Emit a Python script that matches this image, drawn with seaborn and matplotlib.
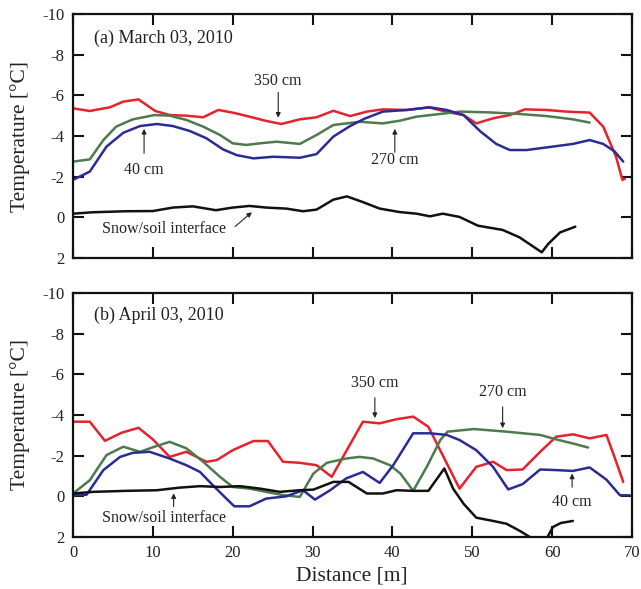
import numpy as np
import pandas as pd
import matplotlib
matplotlib.use("Agg")
import matplotlib.pyplot as plt
import seaborn as sns

# ---------------- data ----------------
# Panel (a) March 03, 2010
a_red_d = [0, 2.1, 4.6, 6.3, 8.2, 10.3, 12.1, 14.2, 16.3, 18.2, 20.0, 22.1, 24.2, 26.1, 28.4, 30.5, 32.6, 34.7,
           36.8, 38.8, 41.8, 44.5, 47.2, 48.9, 50.5, 52.6, 54.7, 56.6, 59.3, 61.8, 64.7, 66.4, 68.0, 68.8, 69.1]
a_red_t = [-5.36, -5.23, -5.41, -5.69, -5.80, -5.23, -5.03, -5.0, -4.92, -5.28, -5.15, -4.95, -4.74, -4.59, -4.82,
           -4.92, -5.24, -4.98, -5.2, -5.31, -5.28, -5.41, -5.15, -5.03, -4.62, -4.87, -5.03, -5.31, -5.28, -5.2,
           -5.15, -4.46, -2.98, -1.84, -1.9]
a_green_d = [0, 2.1, 3.8, 5.4, 7.5, 10.2, 12.1, 14.2, 16.3, 18.4, 20.0, 21.7, 23.4, 25.5, 28.4, 30.5, 32.6, 35.9,
             38.8, 40.9, 43.0, 45.9, 48.5, 52.2, 56.0, 59.3, 62.6, 64.7]
a_green_t = [-2.74, -2.85, -3.8, -4.46, -4.82, -5.03, -5.0, -4.79, -4.46, -4.05, -3.64, -3.56, -3.64, -3.72, -3.61,
             -4.05, -4.54, -4.70, -4.62, -4.75, -4.95, -5.08, -5.2, -5.16, -5.08, -4.98, -4.82, -4.66]
a_blue_d = [0, 2.1, 4.2, 6.3, 8.4, 10.5, 12.5, 14.6, 16.7, 18.8, 20.5, 22.6, 25.1, 28.4, 30.5, 32.6, 34.7, 36.5,
            38.8, 41.8, 44.7, 46.8, 48.9, 51.0, 53.0, 54.7, 56.8, 60.1, 62.6, 64.7, 66.4, 67.8, 68.9]
a_blue_t = [-1.84, -2.25, -3.48, -4.16, -4.49, -4.59, -4.49, -4.25, -3.89, -3.34, -3.06, -2.9, -2.98, -2.93, -3.11,
            -3.97, -4.49, -4.85, -5.2, -5.28, -5.41, -5.28, -5.03, -4.23, -3.61, -3.31, -3.31, -3.48, -3.61, -3.8,
            -3.61, -3.25, -2.74]
a_black_d = [0, 2.5, 6.7, 10.0, 12.5, 15.0, 17.9, 20.0, 22.1, 24.2, 26.7, 28.8, 30.5, 32.6, 34.3, 36.3, 38.4, 40.9,
             43.0, 44.7, 46.3, 48.4, 50.7, 53.8, 55.9, 58.7, 59.5, 61.0, 62.9]
a_black_t = [-0.18, -0.25, -0.3, -0.31, -0.48, -0.54, -0.35, -0.48, -0.56, -0.48, -0.43, -0.3, -0.38, -0.87, -1.03,
             -0.75, -0.43, -0.26, -0.18, -0.05, -0.18, -0.02, 0.41, 0.62, 0.98, 1.72, 1.31, 0.74, 0.46]

# Panel (b) April 03, 2010
b_red_d = [0, 2.1, 4.0, 6.1, 8.2, 10.0, 12.1, 14.2, 16.7, 18.0, 20.0, 22.6, 24.4, 26.3, 28.4, 30.5, 32.4, 36.3,
           38.4, 40.5, 42.6, 44.5, 46.4, 48.4, 50.5, 52.6, 54.3, 56.3, 58.5, 60.5, 62.6, 64.7, 66.8, 67.8, 68.9]
b_red_t = [-3.67, -3.67, -2.73, -3.13, -3.37, -2.8, -1.94, -2.19, -1.70, -1.78, -2.27, -2.72, -2.72, -1.70, -1.65,
           -1.53, -0.96, -3.67, -3.59, -3.79, -3.92, -3.42, -1.94, -0.38, -1.45, -1.70, -1.29, -1.32, -2.19, -2.93,
           -3.05, -2.85, -3.02, -1.94, -0.71]
b_green_d = [0, 2.1, 4.2, 6.3, 8.4, 10.2, 12.1, 14.2, 16.3, 18.4, 20.0, 22.1, 24.2, 26.3, 28.4, 30.1, 31.8, 34.2,
             35.9, 37.6, 39.7, 41.0, 42.6, 44.3, 46.0, 46.9, 50.2, 54.3, 58.5, 60.5, 62.6, 64.5]
b_green_t = [-0.14, -0.79, -2.03, -2.44, -2.19, -2.44, -2.68, -2.36, -1.70, -0.96, -0.46, -0.38, -0.22, -0.06, 0.03,
             -1.12, -1.65, -1.86, -1.94, -1.86, -1.53, -1.12, -0.27, -1.45, -2.77, -3.18, -3.31, -3.18, -3.02, -2.80,
             -2.6, -2.40]
b_blue_d = [0, 1.7, 3.8, 5.9, 7.5, 9.6, 12.1, 14.2, 15.9, 17.5, 19.2, 20.2, 22.1, 24.2, 26.7, 28.8, 30.3, 32.2,
            34.2, 36.3, 38.4, 40.1, 42.6, 44.7, 46.8, 48.4, 50.5, 52.6, 54.5, 56.3, 58.5, 60.5, 62.6, 64.7, 66.8,
            68.5, 69.7]
b_blue_t = [-0.05, -0.08, -1.29, -1.94, -2.14, -2.19, -1.86, -1.53, -1.2, -0.55, 0.11, 0.49, 0.49, 0.11, 0.0, -0.3,
            0.16, -0.3, -0.88, -1.2, -0.66, -1.53, -3.1, -3.1, -3.02, -2.77, -2.27, -1.45, -0.34, -0.6, -1.32, -1.29,
            -1.25, -1.42, -0.82, -0.05, -0.05]
b_black_d = [0, 2.5, 6.7, 10.5, 13.4, 15.9, 18.4, 20.9, 23.4, 25.9, 28.4, 30.1, 32.6, 34.5, 36.8, 38.8, 40.5, 42.6,
             44.5, 46.5, 47.6, 48.9, 50.5, 52.6, 54.3, 56.0, 57.4, 59.0, 60.1, 61.1, 62.6]
b_black_t = [-0.14, -0.22, -0.27, -0.3, -0.43, -0.5, -0.46, -0.5, -0.38, -0.22, -0.3, -0.33, -0.71, -0.71, -0.14,
             -0.14, -0.3, -0.27, -0.27, -1.37, -0.38, 0.36, 1.05, 1.21, 1.35, 1.71, 2.05, 2.3, 1.51, 1.31, 1.21]

series_names = ["350 cm", "270 cm", "40 cm", "Snow/soil interface"]
y_ticks = [-10, -8, -6, -4, -2, 0, 2]
x_ticks = [0, 10, 20, 30, 40, 50, 60, 70]
panel_titles = ["(a) March 03, 2010", "(b) April 03, 2010"]

# ---------------- style ----------------
sns.set_style("ticks")
plt.rcParams["font.family"] = ["Liberation Serif", "DejaVu Serif"]
plt.rcParams["axes.unicode_minus"] = False

palette = {"350 cm": "#e4232b", "270 cm": "#4d7b4d", "40 cm": "#2b2b96", "Snow/soil interface": "#111111"}


def make_df(parts):
    frames = []
    for name, d, t in parts:
        frames.append(pd.DataFrame({"Distance": d, "Temp": t, "series": name, "order": range(len(d))}))
    return pd.concat(frames, ignore_index=True)


df_a = make_df([("350 cm", a_red_d, a_red_t), ("270 cm", a_green_d, a_green_t),
                ("40 cm", a_blue_d, a_blue_t), ("Snow/soil interface", a_black_d, a_black_t)])
df_b = make_df([("350 cm", b_red_d, b_red_t), ("270 cm", b_green_d, b_green_t),
                ("40 cm", b_blue_d, b_blue_t), ("Snow/soil interface", b_black_d, b_black_t)])

W, H = 641, 589
fig = plt.figure(figsize=(W / 100, H / 100), dpi=100)
ax_a = fig.add_axes([73 / W, 1 - 258 / H, (632 - 73) / W, (258 - 14) / H])
ax_b = fig.add_axes([73 / W, 1 - 537 / H, (632 - 73) / W, (537 - 293) / H])

for ax, df in [(ax_a, df_a), (ax_b, df_b)]:
    sns.lineplot(data=df, x="Distance", y="Temp", hue="series", hue_order=series_names,
                 palette=palette, estimator=None, sort=False, units="series",
                 legend=False, linewidth=1.8, ax=ax)
    ax.set_xlim(0, 70)
    ax.set_ylim(2, -10)
    ax.set_yticks(y_ticks)
    ax.set_yticklabels([str(v) for v in y_ticks])
    ax.set_xticks(x_ticks)
    ax.set_xlabel("")
    ax.set_ylabel("")
    ax.tick_params(direction="in", top=True, right=True, length=8, width=1.5,
                   labelsize=12, pad=6, color="#111111", labelcolor="#222222")
    for sp in ax.spines.values():
        sp.set_linewidth(1.6)
        sp.set_color("#111111")
        sp.set_visible(True)

ax_a.set_xticklabels([])
ax_b.set_xticklabels([str(v) for v in x_ticks])

fig.text(20 / W, 1 - 137 / H, "Temperature [°C]", rotation=90, ha="center", va="center", fontsize=15.5, color="#222222")
fig.text(20 / W, 1 - 415 / H, "Temperature [°C]", rotation=90, ha="center", va="center", fontsize=15.5, color="#222222")
fig.text(352 / W, 1 - 576 / H, "Distance [m]", ha="center", va="center", fontsize=15.5, color="#222222")

ax_a.text(2.6, -8.8, panel_titles[0], fontsize=13, ha="left", va="center", color="#222222")
ax_b.text(2.6, -8.9, panel_titles[1], fontsize=13, ha="left", va="center", color="#222222")

arrow = dict(arrowstyle="-|>", lw=0.8, color="#222222", mutation_scale=7, shrinkA=0, shrinkB=0)
fs_ann = 11.5

# panel a annotations
ax_a.text(25.7, -6.7, "350 cm", fontsize=fs_ann, ha="center", va="center", color="#222222")
ax_a.annotate("", xy=(25.7, -4.9), xytext=(25.7, -6.15), arrowprops=arrow)
ax_a.text(8.9, -2.35, "40 cm", fontsize=fs_ann, ha="center", va="center", color="#222222")
ax_a.annotate("", xy=(8.9, -4.35), xytext=(8.9, -3.15), arrowprops=arrow)
ax_a.text(40.3, -2.8, "270 cm", fontsize=fs_ann, ha="center", va="center", color="#222222")
ax_a.annotate("", xy=(40.3, -4.35), xytext=(40.3, -3.2), arrowprops=arrow)
ax_a.text(11.4, 0.55, "Snow/soil interface", fontsize=fs_ann, ha="center", va="center", color="#222222")
ax_a.annotate("", xy=(22.4, -0.25), xytext=(20.3, 0.45), arrowprops=arrow)

# panel b annotations
ax_b.text(37.8, -5.55, "350 cm", fontsize=fs_ann, ha="center", va="center", color="#222222")
ax_b.annotate("", xy=(37.8, -3.85), xytext=(37.8, -4.85), arrowprops=arrow)
ax_b.text(53.8, -5.15, "270 cm", fontsize=fs_ann, ha="center", va="center", color="#222222")
ax_b.annotate("", xy=(53.8, -3.35), xytext=(53.8, -4.4), arrowprops=arrow)
ax_b.text(62.5, 0.3, "40 cm", fontsize=fs_ann, ha="center", va="center", color="#222222")
ax_b.annotate("", xy=(62.5, -1.12), xytext=(62.5, -0.45), arrowprops=arrow)
ax_b.text(11.4, 1.05, "Snow/soil interface", fontsize=fs_ann, ha="center", va="center", color="#222222")
ax_b.annotate("", xy=(12.6, -0.15), xytext=(12.6, 0.5), arrowprops=arrow)

fig.savefig("out.png", dpi=100)
